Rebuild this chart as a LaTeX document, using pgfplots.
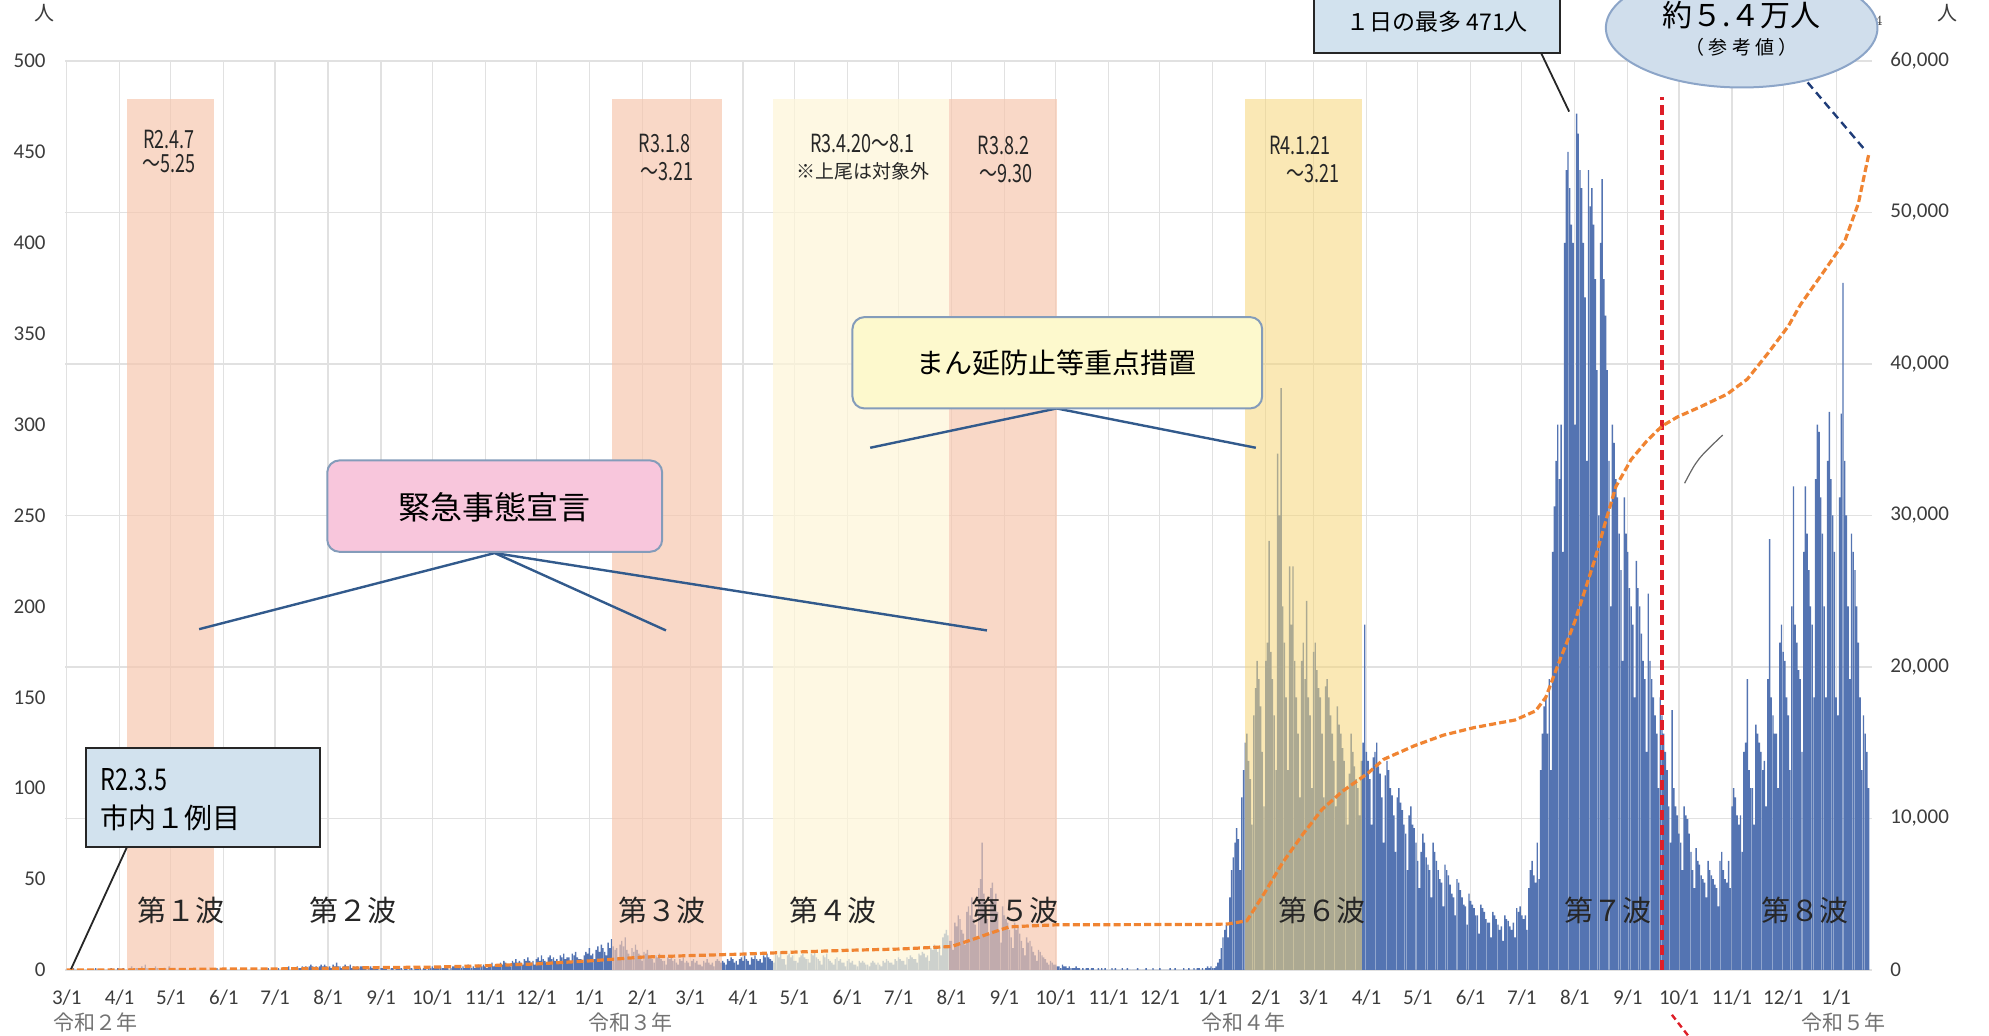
\documentclass[border=0pt]{standalone}
\usepackage{fontspec}
\setmainfont{Carlito}
\newfontfamily\jp{Noto Sans CJK JP}
\usepackage{graphicx}
\usepackage{pgfplots}
\pgfplotsset{compat=1.18}
\usepackage{pgfplotstable}
\definecolor{barblue}{RGB}{84,116,178}
\definecolor{salmon}{RGB}{246,198,172}
\definecolor{cream}{RGB}{253,245,216}
\definecolor{gold}{RGB}{246,214,120}
\definecolor{cumor}{RGB}{240,132,50}
\definecolor{redl}{RGB}{222,30,40}
\definecolor{boxblue}{RGB}{210,226,238}
\definecolor{pinkbox}{RGB}{248,198,220}
\definecolor{yelbox}{RGB}{253,249,205}
\definecolor{linkblue}{RGB}{50,90,140}
\definecolor{gridc}{RGB}{225,225,225}
\definecolor{ellfill}{RGB}{208,222,236}
\definecolor{ellline}{RGB}{140,165,200}
\definecolor{navy}{RGB}{30,60,120}
\definecolor{ticktext}{RGB}{60,60,60}

\pgfplotstableread[row sep=\\]{
v\\
0\\ 0\\ 0\\ 0\\ 1\\ 0\\ 0\\
0\\ 0\\ 0\\ 0\\ 0\\ 0\\ 0\\
0\\ 0\\ 0\\ 1\\ 0\\ 0\\ 0\\
0\\ 0\\ 0\\ 0\\ 0\\ 1\\ 0\\
0\\ 0\\ 1\\ 0\\ 0\\ 1\\ 0\\
0\\ 0\\ 1\\ 2\\ 0\\ 1\\ 1\\
1\\ 0\\ 2\\ 1\\ 3\\ 1\\ 0\\
0\\ 1\\ 1\\ 2\\ 1\\ 0\\ 1\\
1\\ 0\\ 1\\ 0\\ 2\\ 1\\ 0\\
0\\ 0\\ 0\\ 1\\ 0\\ 0\\ 0\\
0\\ 0\\ 0\\ 0\\ 0\\ 0\\ 0\\
0\\ 0\\ 0\\ 0\\ 0\\ 0\\ 0\\
0\\ 0\\ 0\\ 0\\ 1\\ 0\\ 0\\
0\\ 0\\ 0\\ 0\\ 0\\ 0\\ 0\\
0\\ 0\\ 0\\ 0\\ 0\\ 0\\ 0\\
0\\ 0\\ 0\\ 0\\ 1\\ 0\\ 0\\
0\\ 0\\ 0\\ 0\\ 0\\ 0\\ 1\\
0\\ 0\\ 1\\ 0\\ 0\\ 1\\ 0\\
0\\ 1\\ 0\\ 1\\ 2\\ 0\\ 1\\
1\\ 0\\ 2\\ 1\\ 1\\ 2\\ 1\\
2\\ 1\\ 2\\ 3\\ 2\\ 1\\ 2\\
1\\ 2\\ 3\\ 2\\ 3\\ 2\\ 1\\
2\\ 1\\ 3\\ 2\\ 4\\ 2\\ 2\\
1\\ 2\\ 3\\ 2\\ 2\\ 3\\ 1\\
2\\ 1\\ 2\\ 1\\ 2\\ 2\\ 1\\
1\\ 0\\ 1\\ 2\\ 1\\ 1\\ 1\\
1\\ 0\\ 1\\ 1\\ 2\\ 1\\ 0\\
0\\ 1\\ 1\\ 0\\ 1\\ 2\\ 1\\
1\\ 0\\ 1\\ 1\\ 0\\ 1\\ 1\\
0\\ 1\\ 1\\ 2\\ 1\\ 0\\ 1\\
1\\ 0\\ 1\\ 1\\ 2\\ 1\\ 1\\
1\\ 1\\ 2\\ 1\\ 1\\ 2\\ 1\\
0\\ 1\\ 2\\ 2\\ 1\\ 1\\ 2\\
1\\ 2\\ 1\\ 2\\ 3\\ 2\\ 1\\
2\\ 1\\ 2\\ 3\\ 2\\ 2\\ 3\\
2\\ 1\\ 3\\ 3\\ 4\\ 2\\ 3\\
3\\ 2\\ 4\\ 3\\ 5\\ 4\\ 3\\
3\\ 2\\ 5\\ 4\\ 6\\ 4\\ 5\\
4\\ 3\\ 6\\ 5\\ 7\\ 5\\ 4\\
5\\ 3\\ 6\\ 7\\ 5\\ 8\\ 6\\
5\\ 4\\ 7\\ 8\\ 6\\ 7\\ 5\\
6\\ 4\\ 8\\ 7\\ 9\\ 6\\ 7\\
7\\ 5\\ 9\\ 8\\ 10\\ 7\\ 6\\
6\\ 4\\ 8\\ 10\\ 9\\ 12\\ 8\\
9\\ 6\\ 11\\ 13\\ 10\\ 14\\ 12\\
10\\ 8\\ 15\\ 12\\ 17\\ 13\\ 11\\
12\\ 7\\ 14\\ 16\\ 13\\ 18\\ 11\\
9\\ 6\\ 12\\ 10\\ 14\\ 11\\ 9\\
8\\ 5\\ 10\\ 9\\ 11\\ 8\\ 7\\
6\\ 4\\ 8\\ 7\\ 9\\ 6\\ 5\\
5\\ 3\\ 7\\ 6\\ 8\\ 5\\ 6\\
4\\ 3\\ 6\\ 5\\ 7\\ 4\\ 5\\
4\\ 2\\ 5\\ 6\\ 4\\ 5\\ 3\\
3\\ 2\\ 5\\ 4\\ 6\\ 4\\ 3\\
4\\ 2\\ 5\\ 6\\ 5\\ 4\\ 5\\
4\\ 3\\ 6\\ 5\\ 7\\ 6\\ 4\\
5\\ 3\\ 6\\ 7\\ 5\\ 8\\ 6\\
5\\ 3\\ 7\\ 6\\ 8\\ 6\\ 5\\
6\\ 4\\ 8\\ 7\\ 9\\ 7\\ 6\\
5\\ 4\\ 9\\ 8\\ 7\\ 10\\ 6\\
6\\ 3\\ 8\\ 9\\ 7\\ 8\\ 5\\
5\\ 4\\ 7\\ 8\\ 9\\ 7\\ 6\\
6\\ 4\\ 9\\ 8\\ 10\\ 7\\ 6\\
5\\ 3\\ 8\\ 7\\ 9\\ 6\\ 5\\
4\\ 3\\ 6\\ 7\\ 5\\ 6\\ 4\\
4\\ 2\\ 5\\ 6\\ 4\\ 5\\ 3\\
3\\ 2\\ 5\\ 4\\ 5\\ 4\\ 3\\
3\\ 2\\ 4\\ 5\\ 4\\ 3\\ 4\\
3\\ 2\\ 5\\ 4\\ 6\\ 5\\ 4\\
4\\ 3\\ 6\\ 5\\ 7\\ 6\\ 5\\
5\\ 3\\ 7\\ 6\\ 8\\ 7\\ 6\\
6\\ 4\\ 9\\ 8\\ 10\\ 9\\ 7\\
8\\ 5\\ 12\\ 11\\ 14\\ 13\\ 10\\
12\\ 8\\ 18\\ 20\\ 22\\ 19\\ 16\\
16\\ 11\\ 26\\ 24\\ 30\\ 28\\ 22\\
20\\ 14\\ 32\\ 35\\ 30\\ 40\\ 28\\
25\\ 18\\ 45\\ 50\\ 70\\ 42\\ 36\\
28\\ 20\\ 45\\ 48\\ 38\\ 42\\ 32\\
22\\ 15\\ 35\\ 30\\ 28\\ 26\\ 22\\
18\\ 12\\ 26\\ 22\\ 24\\ 20\\ 16\\
12\\ 8\\ 18\\ 15\\ 16\\ 13\\ 10\\
8\\ 5\\ 11\\ 10\\ 8\\ 7\\ 6\\
4\\ 3\\ 5\\ 4\\ 3\\ 3\\ 2\\
2\\ 1\\ 3\\ 2\\ 2\\ 1\\ 2\\
1\\ 1\\ 1\\ 2\\ 1\\ 1\\ 0\\
1\\ 0\\ 1\\ 1\\ 0\\ 1\\ 1\\
0\\ 0\\ 1\\ 0\\ 1\\ 0\\ 1\\
0\\ 0\\ 0\\ 1\\ 0\\ 1\\ 0\\
0\\ 0\\ 1\\ 0\\ 0\\ 1\\ 0\\
0\\ 0\\ 0\\ 0\\ 1\\ 0\\ 0\\
0\\ 0\\ 1\\ 0\\ 0\\ 0\\ 1\\
0\\ 0\\ 0\\ 1\\ 0\\ 0\\ 0\\
0\\ 0\\ 1\\ 0\\ 0\\ 1\\ 0\\
0\\ 0\\ 0\\ 1\\ 0\\ 0\\ 1\\
0\\ 0\\ 1\\ 0\\ 1\\ 1\\ 0\\
1\\ 0\\ 1\\ 2\\ 1\\ 2\\ 1\\
1\\ 2\\ 4\\ 6\\ 12\\ 18\\ 22\\
25\\ 18\\ 40\\ 55\\ 62\\ 70\\ 78\\
72\\ 55\\ 95\\ 110\\ 125\\ 130\\ 115\\
105\\ 80\\ 140\\ 155\\ 170\\ 160\\ 145\\
120\\ 90\\ 170\\ 180\\ 236\\ 175\\ 160\\
140\\ 110\\ 284\\ 250\\ 320\\ 200\\ 180\\
150\\ 110\\ 222\\ 190\\ 222\\ 170\\ 150\\
130\\ 95\\ 170\\ 180\\ 160\\ 203\\ 150\\
140\\ 100\\ 175\\ 180\\ 165\\ 155\\ 150\\
130\\ 95\\ 156\\ 160\\ 150\\ 140\\ 130\\
115\\ 90\\ 145\\ 135\\ 130\\ 122\\ 115\\
100\\ 80\\ 108\\ 130\\ 120\\ 112\\ 105\\
100\\ 85\\ 115\\ 125\\ 190\\ 120\\ 115\\
105\\ 80\\ 117\\ 120\\ 125\\ 112\\ 108\\
95\\ 70\\ 107\\ 115\\ 110\\ 100\\ 96\\
85\\ 65\\ 95\\ 100\\ 92\\ 88\\ 80\\
75\\ 55\\ 85\\ 90\\ 80\\ 78\\ 70\\
60\\ 45\\ 65\\ 75\\ 70\\ 62\\ 58\\
55\\ 40\\ 70\\ 65\\ 60\\ 55\\ 50\\
48\\ 35\\ 58\\ 55\\ 52\\ 47\\ 42\\
40\\ 30\\ 50\\ 48\\ 44\\ 40\\ 36\\
35\\ 25\\ 42\\ 38\\ 36\\ 34\\ 30\\
30\\ 20\\ 36\\ 34\\ 32\\ 28\\ 26\\
26\\ 18\\ 32\\ 30\\ 28\\ 25\\ 22\\
24\\ 16\\ 30\\ 28\\ 27\\ 24\\ 22\\
26\\ 18\\ 34\\ 32\\ 35\\ 30\\ 28\\
30\\ 22\\ 45\\ 55\\ 60\\ 52\\ 48\\
70\\ 50\\ 110\\ 130\\ 145\\ 150\\ 130\\
160\\ 110\\ 230\\ 255\\ 280\\ 300\\ 270\\
300\\ 230\\ 400\\ 440\\ 450\\ 430\\ 410\\
400\\ 300\\ 471\\ 460\\ 440\\ 430\\ 400\\
370\\ 280\\ 440\\ 420\\ 430\\ 410\\ 380\\
330\\ 250\\ 400\\ 435\\ 380\\ 360\\ 330\\
280\\ 200\\ 300\\ 290\\ 270\\ 260\\ 240\\
220\\ 170\\ 260\\ 240\\ 230\\ 210\\ 200\\
190\\ 150\\ 225\\ 210\\ 200\\ 185\\ 170\\
160\\ 120\\ 207\\ 170\\ 160\\ 150\\ 140\\
130\\ 100\\ 150\\ 140\\ 130\\ 120\\ 110\\
90\\ 70\\ 143\\ 100\\ 90\\ 85\\ 75\\
70\\ 55\\ 90\\ 85\\ 83\\ 75\\ 65\\
55\\ 45\\ 67\\ 60\\ 58\\ 52\\ 50\\
48\\ 40\\ 60\\ 55\\ 52\\ 50\\ 47\\
45\\ 35\\ 60\\ 65\\ 55\\ 50\\ 48\\
60\\ 45\\ 90\\ 100\\ 95\\ 85\\ 80\\
85\\ 65\\ 120\\ 125\\ 160\\ 110\\ 100\\
100\\ 80\\ 135\\ 130\\ 125\\ 120\\ 110\\
115\\ 90\\ 160\\ 237\\ 150\\ 140\\ 130\\
130\\ 100\\ 180\\ 190\\ 175\\ 170\\ 150\\
140\\ 110\\ 200\\ 266\\ 190\\ 180\\ 165\\
160\\ 120\\ 230\\ 266\\ 240\\ 220\\ 200\\
190\\ 150\\ 270\\ 300\\ 296\\ 260\\ 240\\
200\\ 150\\ 280\\ 307\\ 270\\ 250\\ 230\\
150\\ 140\\ 260\\ 306\\ 378\\ 280\\ 250\\
200\\ 160\\ 240\\ 230\\ 220\\ 200\\ 180\\
150\\ 110\\ 140\\ 130\\ 120\\ 100\\
}\dailytable

\pgfplotstableread{
d c
0 0
31 2
61 30
92 60
122 70
153 110
184 160
214 190
245 280
275 400
306 600
337 850
365 950
396 1050
426 1180
457 1300
487 1380
518 1550
530 2000
540 2400
552 2850
579 2980
610 2990
640 3000
671 3010
680 3040
691 3250
701 5030
712 7100
724 9000
735 10600
747 11800
762 13000
771 13900
789 14800
806 15500
824 16000
848 16500
860 17100
866 18000
872 19800
883 23000
895 27200
901 29600
907 31900
916 33700
925 34900
934 35900
943 36500
957 37200
972 38000
984 39000
996 40700
1008 42500
1015 43900
1030 46300
1041 48100
1049 50600
1055 53800
}\cumtable

\pgfplotsset{
  base/.style={at={(0pt,0pt)}, anchor=south west, scale only axis,
    width=903.5pt, height=454.5pt, xmin=-1, xmax=1057,
    axis line style={draw=none}, major tick length=0pt, minor tick length=0pt,
    grid style={gridc, line width=0.6pt}},
}

\begin{document}
\begin{tikzpicture}
\useasboundingbox (-32.5pt,-33pt) rectangle (962pt,485pt);
\clip (-32.5pt,-33pt) rectangle (962pt,485pt);

% right axis with horizontal grid
\begin{axis}[base, ymin=0, ymax=60000,
  axis y line*=right, axis x line=none,
  ytick={0,10000,20000,30000,40000,50000,60000},
  yticklabels={0,{10,000},{20,000},{30,000},{40,000},{50,000},{60,000}},
  ymajorgrids,
  yticklabel style={anchor=west, inner sep=0pt, xshift=9pt, text=ticktext, font=\fontsize{10.5}{12}\selectfont}]
\addplot[draw=none] coordinates {(0,0)};
\end{axis}

% left axis: bars, periods
\begin{axis}[base, ymin=0, ymax=500,
  axis y line*=left, axis x line*=bottom,
  ytick={0,50,100,150,200,250,300,350,400,450,500},
  yticklabels={0,50,100,150,200,250,300,350,400,450,500},
  xtick={0,31,61,92,122,153,184,214,245,275,306,337,365,396,426,457,487,518,549,579,610,640,671,702,730,761,791,822,852,883,914,944,975,1005,1036},
  xticklabels={3/1,4/1,5/1,6/1,7/1,8/1,9/1,10/1,11/1,12/1,1/1,2/1,3/1,4/1,5/1,6/1,7/1,8/1,9/1,10/1,11/1,12/1,1/1,2/1,3/1,4/1,5/1,6/1,7/1,8/1,9/1,10/1,11/1,12/1,1/1},
  xmajorgrids,
  xticklabel style={anchor=center, yshift=-14pt, text=ticktext, font=\fontsize{10.5}{12}\selectfont},
  yticklabel style={anchor=east, inner sep=0pt, xshift=-9.5pt, text=ticktext, font=\fontsize{10.5}{12}\selectfont}]
\addplot[ybar, bar width=0.7pt, fill=barblue, draw=none] table[x expr=\coordindex, y=v]{\dailytable};
\fill[salmon, fill opacity=0.68] (axis cs:35.5,0) rectangle (axis cs:86.5,479);
\fill[salmon, fill opacity=0.68] (axis cs:319.5,0) rectangle (axis cs:383.5,479);
\fill[cream, fill opacity=0.72] (axis cs:413.5,0) rectangle (axis cs:516.5,479);
\fill[salmon, fill opacity=0.68] (axis cs:516.5,0) rectangle (axis cs:580,479);
\fill[gold, fill opacity=0.55] (axis cs:690,0) rectangle (axis cs:758.5,479);
\draw[redl, line width=1.9pt, dash pattern=on 5pt off 2.5pt] (axis cs:934,0) -- (axis cs:934,480);
\end{axis}

% cumulative line
\begin{axis}[base, ymin=0, ymax=60000, hide axis]
\addplot[cumor, line width=1.6pt, dash pattern=on 3.5pt off 1.6pt] table[x=d, y=c]{\cumtable};
\end{axis}

% annotations (coordinates in reference pixels, 1568 x 817 frame)
\begin{scope}[shift={(-32.5pt,485pt)}, x=0.63425pt, y=-0.63425pt]
\node[font=\jp\fontsize{10}{12}\selectfont, text=ticktext] at (35,10) {人};
\node[font=\jp\fontsize{10}{12}\selectfont, text=ticktext] at (1535,10) {人};

\begin{scope}[every node/.style={font=\jp\fontsize{12.5}{14}\selectfont, inner sep=0pt, text=black!85}]
\node at (133,110) {\scalebox{0.72}[1]{R2.4.7}};
\node at (133,129) {\scalebox{0.72}[1]{～5.25}};
\node at (524,113) {\scalebox{0.72}[1]{R3.1.8}};
\node at (526,135) {\scalebox{0.72}[1]{～3.21}};
\node at (680,113) {\scalebox{0.72}[1]{R3.4.20～8.1}};
\node[font=\jp\fontsize{9.5}{11}\selectfont] at (680,135) {※上尾は対象外};
\node at (791,115) {\scalebox{0.72}[1]{R3.8.2}};
\node at (793,137) {\scalebox{0.72}[1]{～9.30}};
\node at (1025,115) {\scalebox{0.72}[1]{R4.1.21}};
\node at (1035,137) {\scalebox{0.72}[1]{～3.21}};
\end{scope}

% first case box
\draw[black!85, line width=0.9pt] (100,668) -- (56,764);
\draw[fill=boxblue, draw=black!85, line width=1pt] (68,590) rectangle (252,668);
\node[anchor=west, font=\jp\fontsize{15}{17}\selectfont, inner sep=0pt] at (79,615) {\scalebox{0.78}[1]{R2.3.5}};
\node[anchor=west, font=\jp\fontsize{14}{17}\selectfont, inner sep=0pt] at (79,645) {市内１例目};

% emergency declaration
\draw[linkblue, line width=1.2pt] (157,496) -- (390,436) -- (525,497);
\draw[linkblue, line width=1.2pt] (390,436) -- (778,497);
\draw[rounded corners=6pt, fill=pinkbox, draw=linkblue!60, line width=1pt] (258,363) rectangle (522,435);
\node[font=\jp\fontsize{16}{18}\selectfont] at (390,400) {緊急事態宣言};

% priority measures
\draw[linkblue, line width=1.2pt] (686,353) -- (833,322) -- (990,353);
\draw[rounded corners=6pt, fill=yelbox, draw=linkblue!60, line width=1pt] (672,250) rectangle (995,322);
\node[font=\jp\fontsize{14}{16}\selectfont] at (833,286) {まん延防止等重点措置};

% max box
\draw[black!85, line width=0.9pt] (1215,42) -- (1237,88);
\draw[fill=boxblue, draw=black!85, line width=1pt] (1036,-30) rectangle (1230,42);
\node[font=\jp\fontsize{11.5}{14}\selectfont] at (1133,17) {１日の最多\ 471人};

% ellipse
\draw[navy, line width=1.2pt, dash pattern=on 4pt off 2.5pt] (1425,65) -- (1470,118);
\draw[fill=ellfill, draw=ellline, line width=1pt] (1373,22) ellipse [x radius=67.9pt, y radius=29.8pt];
\node[font=\jp\fontsize{15}{17}\selectfont] at (1373,12) {約５.４万人};
\node[font=\jp\fontsize{9.5}{11}\selectfont] at (1373,37) {（\ 参\ 考\ 値\ ）};

\draw[redl, line width=1.2pt, dash pattern=on 3pt off 2pt] (1318,800) -- (1332,818);
\draw[black!60, line width=0.6pt] (1328,381) .. controls (1338,362) .. (1358,343);

% wave labels
\begin{scope}[every node/.style={font=\jp\fontsize{14.5}{17}\selectfont, text=black!85}]
\node at (143,718) {第１波};
\node at (278,718) {第２波};
\node at (522,718) {第３波};
\node at (657,718) {第４波};
\node at (800,718) {第５波};
\node at (1042,718) {第６波};
\node at (1268,718) {第７波};
\node at (1423,718) {第８波};
\end{scope}

% year labels
\begin{scope}[every node/.style={font=\jp\fontsize{10.5}{12}\selectfont, text=black!55}]
\node at (75,806) {令和２年};
\node at (497,806) {令和３年};
\node at (980,806) {令和４年};
\node at (1453,806) {令和５年};
\end{scope}
\end{scope}
\end{tikzpicture}
\end{document}
